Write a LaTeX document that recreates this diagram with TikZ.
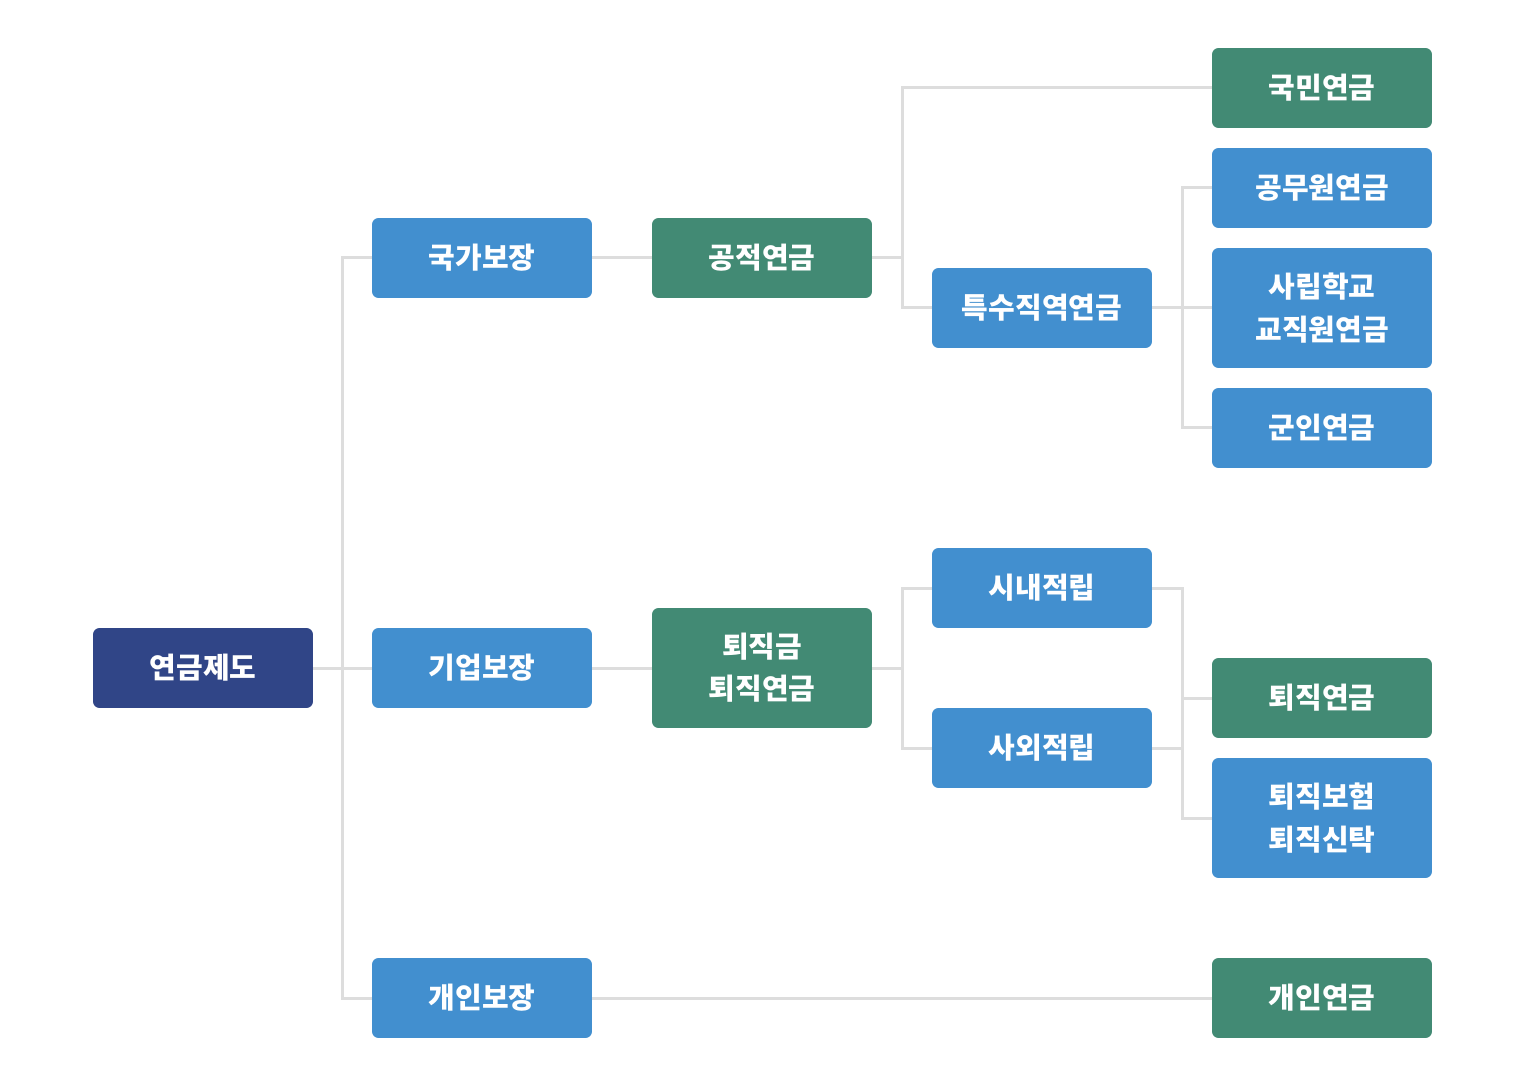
\documentclass[tikz,border=0pt]{standalone}
\usepackage{fontspec}
\setmainfont{Noto Sans CJK KR}
\definecolor{rootblue}{HTML}{304587}
\definecolor{boxblue}{HTML}{428FCF}
\definecolor{boxgreen}{HTML}{428A74}
\definecolor{linegray}{HTML}{DDDDDD}
\tikzset{
  box/.style={rounded corners=0.13cm, minimum width=4.4cm, minimum height=1.6cm,
    text=white, align=center, font=\fontsize{16.5pt}{24pt}\selectfont\bfseries, inner sep=0pt},
  tallbox/.style={box, minimum height=2.4cm},
  link/.style={draw=linegray, line width=0.06cm}
}
\begin{document}
\begin{tikzpicture}[x=0.02cm, y=-0.02cm]
        \useasboundingbox (0,0) rectangle (1522,1074);

        % Root
        \node[box, fill=rootblue] (root) at (203,668) {연금제도};

        % Level 1
        \node[box, fill=boxblue] (nat) at (482,258) {국가보장};
        \node[box, fill=boxblue] (ent) at (482,668) {기업보장};
        \node[box, fill=boxblue] (per) at (482,998) {개인보장};

        % Level 2
        \node[box, fill=boxgreen] (pub) at (762,258) {공적연금};
        \node[tallbox, fill=boxgreen] (sev) at (762,668) {퇴직금\\퇴직연금};

        % Level 3
        \node[box, fill=boxblue] (spec) at (1042,308) {특수직역연금};
        \node[box, fill=boxblue] (inner) at (1042,588) {시내적립};
        \node[box, fill=boxblue] (outer) at (1042,748) {사외적립};

        % Level 4
        \node[box, fill=boxgreen] (npen) at (1322,88) {국민연금};
        \node[box, fill=boxblue] (gov) at (1322,188) {공무원연금};
        \node[tallbox, fill=boxblue] (sch) at (1322,308) {사립학교\\교직원연금};
        \node[box, fill=boxblue] (mil) at (1322,428) {군인연금};
        \node[box, fill=boxgreen] (rpen) at (1322,698) {퇴직연금};
        \node[tallbox, fill=boxblue] (ins) at (1322,818) {퇴직보험\\퇴직신탁};
        \node[box, fill=boxgreen] (ppen) at (1322,998) {개인연금};

        % Junction points of the tree
        \coordinate (j1) at (342,668);
        \coordinate (j2) at (902,258);
        \coordinate (j3) at (1182,308);
        \coordinate (j4) at (902,668);
        \coordinate (j5) at (1182,698);

        % Connectors
        \draw[link] (root) -- (ent);
        \draw[link] (nat.west) -| (j1) |- (per.west);
        \draw[link] (nat) -- (pub);
        \draw[link] (pub) -- (j2);
        \draw[link] (npen.west) -| (j2) |- (spec.west);
        \draw[link] (spec) -- (sch);
        \draw[link] (gov.west) -| (j3) |- (mil.west);
        \draw[link] (ent) -- (sev);
        \draw[link] (sev) -- (j4);
        \draw[link] (inner.west) -| (j4) |- (outer.west);
        \draw[link] (inner.east) -| (j5) |- (ins.west);
        \draw[link] (j5) -- (rpen.west);
        \draw[link] (outer.east) -- (outer.east -| j5);
        \draw[link] (per) -- (ppen);
\end{tikzpicture}
\end{document}
